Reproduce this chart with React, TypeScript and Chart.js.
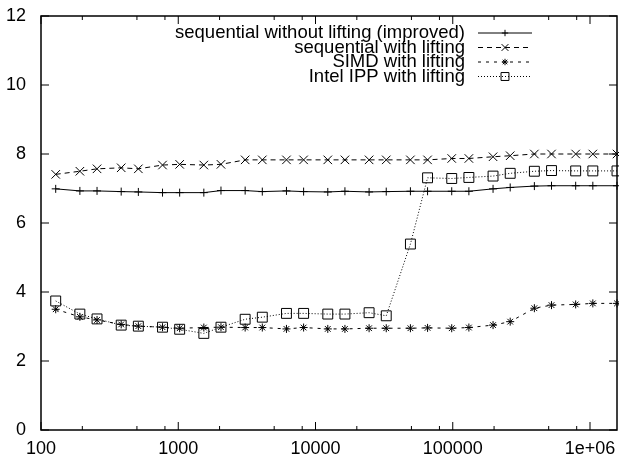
import React, { useEffect, useRef } from "react";
import { Chart, registerables } from "chart.js";

Chart.register(...registerables);

// ---- data ----
const sizes = [
  128, 192, 256, 384, 512, 768, 1024, 1536, 2048, 3072, 4096, 6144, 8192, 12288,
  16384, 24576, 32768, 49152, 65536, 98304, 131072, 196608, 262144, 393216, 524288,
  786432, 1048576, 1572864,
];

const seqWithoutLifting = [
  6.99, 6.93, 6.93, 6.91, 6.9, 6.88, 6.88, 6.88, 6.94, 6.94, 6.91, 6.93, 6.91, 6.9,
  6.92, 6.9, 6.91, 6.92, 6.92, 6.92, 6.92, 6.99, 7.03, 7.07, 7.08, 7.08, 7.08, 7.08,
];

const seqWithLifting = [
  7.41, 7.5, 7.57, 7.6, 7.57, 7.68, 7.7, 7.68, 7.7, 7.83, 7.83, 7.83, 7.83, 7.83,
  7.83, 7.83, 7.83, 7.83, 7.83, 7.87, 7.87, 7.92, 7.95, 8.0, 8.0, 8.0, 8.0, 8.0,
];

const simdWithLifting = [
  3.5, 3.28, 3.19, 3.06, 3.01, 2.98, 2.95, 2.97, 2.98, 2.97, 2.97, 2.93, 2.97, 2.93,
  2.93, 2.95, 2.95, 2.95, 2.96, 2.95, 2.97, 3.04, 3.14, 3.53, 3.62, 3.64, 3.67, 3.67,
];

const ippWithLifting = [
  3.74, 3.36, 3.22, 3.04, 3.01, 2.98, 2.92, 2.8, 2.98, 3.21, 3.27, 3.38, 3.38, 3.36,
  3.36, 3.4, 3.31, 5.39, 7.31, 7.29, 7.32, 7.36, 7.44, 7.5, 7.52, 7.51, 7.51, 7.51,
];

const seriesLabels = [
  "sequential without lifting (improved)",
  "sequential with lifting",
  "SIMD with lifting",
  "Intel IPP with lifting",
];

const xTickValues = [100, 1000, 10000, 100000, 1000000];
const xTickLabels = ["100", "1000", "10000", "100000", "1e+06"];
const xMinorFactors = [2, 5, 8];
const yTickValues = [0, 2, 4, 6, 8, 10, 12];

const X_MIN = 100;
const X_MAX = 1572864;
const Y_MIN = 0;
const Y_MAX = 12;

const FONT = '"Liberation Sans", Arial, Helvetica, sans-serif';
const FONT_SIZE = 18;
const LEGEND_FONT_SIZE = 18.5;

function drawMarker(ctx: CanvasRenderingContext2D, style: string, r: number, x: number, y: number) {
  ctx.beginPath();
  if (style === "cross" || style === "star") {
    ctx.moveTo(x - r, y);
    ctx.lineTo(x + r, y);
    ctx.moveTo(x, y - r);
    ctx.lineTo(x, y + r);
  }
  if (style === "crossRot" || style === "star") {
    const o = Math.SQRT1_2 * r;
    ctx.moveTo(x - o, y - o);
    ctx.lineTo(x + o, y + o);
    ctx.moveTo(x - o, y + o);
    ctx.lineTo(x + o, y - o);
  }
  if (style === "rect") {
    const s = Math.SQRT1_2 * r;
    ctx.rect(x - s, y - s, 2 * s, 2 * s);
  }
  ctx.stroke();
}

const framePlugin = {
  id: "gpFrame",
  afterDraw(chart: any) {
    const ctx: CanvasRenderingContext2D = chart.ctx;
    const a = chart.chartArea;
    const xs = chart.scales.x;
    const ys = chart.scales.y;
    ctx.save();
    ctx.strokeStyle = "#000";
    ctx.lineWidth = 1.5;
    ctx.setLineDash([]);
    ctx.strokeRect(a.left, a.top, a.right - a.left, a.bottom - a.top);
    ctx.lineWidth = 1;
    ctx.beginPath();
    const major = 8;
    const minor = 4;
    for (const v of xTickValues) {
      const px = xs.getPixelForValue(v);
      ctx.moveTo(px, a.bottom);
      ctx.lineTo(px, a.bottom - major);
      ctx.moveTo(px, a.top);
      ctx.lineTo(px, a.top + major);
      for (const f of xMinorFactors) {
        const mv = v * f;
        if (mv > X_MAX) continue;
        const mpx = xs.getPixelForValue(mv);
        ctx.moveTo(mpx, a.bottom);
        ctx.lineTo(mpx, a.bottom - minor);
        ctx.moveTo(mpx, a.top);
        ctx.lineTo(mpx, a.top + minor);
      }
    }
    for (const v of yTickValues) {
      const py = ys.getPixelForValue(v);
      ctx.moveTo(a.left, py);
      ctx.lineTo(a.left + major, py);
      ctx.moveTo(a.right, py);
      ctx.lineTo(a.right - major, py);
    }
    ctx.stroke();

    // legend (gnuplot style: text right-aligned, sample to the right)
    const textRight = a.right - 152;
    const x0 = a.right - 139;
    const x1 = a.right - 85;
    const top = a.top + 17;
    const step = 14.5;
    chart.data.datasets.forEach((ds: any, i: number) => {
      const y = top + i * step;
      ctx.font = `${LEGEND_FONT_SIZE}px ${FONT}`;
      ctx.fillStyle = "#000";
      ctx.textAlign = "right";
      ctx.textBaseline = "middle";
      ctx.fillText(ds.label, textRight, y);
      ctx.strokeStyle = "#000";
      ctx.lineWidth = 1;
      ctx.setLineDash(ds.borderDash || []);
      ctx.beginPath();
      ctx.moveTo(x0, y);
      ctx.lineTo(x1, y);
      ctx.stroke();
      ctx.setLineDash([]);
      drawMarker(ctx, ds.pointStyle, ds.pointRadius * 0.8, (x0 + x1) / 2, y);
    });
    ctx.restore();
  },
};

export default function App() {
  const ref = useRef<HTMLCanvasElement | null>(null);

  useEffect(() => {
    if (!ref.current) return;
    const mk = (label: string, values: number[], dash: number[], style: string, radius: number) => ({
      label,
      data: sizes.map((x, i) => ({ x, y: values[i] })),
      borderColor: "#000",
      backgroundColor: "rgba(0,0,0,0)",
      borderWidth: 1,
      borderDash: dash,
      pointStyle: style,
      pointRadius: radius,
      pointBorderColor: "#000",
      pointBackgroundColor: "rgba(0,0,0,0)",
      pointBorderWidth: 1,
      fill: false,
      tension: 0,
      clip: 10,
    });
    const chart = new Chart(ref.current, {
      type: "line",
      data: {
        datasets: [
          mk(seriesLabels[0], seqWithoutLifting, [], "cross", 4),
          mk(seriesLabels[1], seqWithLifting, [5, 4], "crossRot", 6),
          mk(seriesLabels[2], simdWithLifting, [3, 5], "star", 4),
          mk(seriesLabels[3], ippWithLifting, [1, 2], "rect", 7),
        ] as any,
      },
      options: {
        animation: false,
        responsive: false,
        maintainAspectRatio: false,
        layout: { autoPadding: false, padding: { top: 16, right: 2, left: 0, bottom: 0 } },
        plugins: { legend: { display: false }, tooltip: { enabled: false } },
        scales: {
          x: {
            type: "logarithmic",
            min: X_MIN,
            max: X_MAX,
            grid: { display: false, drawTicks: false, tickLength: 0 },
            border: { display: false },
            ticks: {
              color: "#000",
              font: { family: FONT, size: FONT_SIZE },
              padding: 8,
              autoSkip: false,
              maxRotation: 0,
              callback: (v: any) => {
                const idx = xTickValues.indexOf(Number(v));
                return idx >= 0 ? xTickLabels[idx] : "";
              },
            },
            afterBuildTicks: (s: any) => {
              s.ticks = xTickValues.map((v) => ({ value: v }));
            },
            afterFit: (s: any) => {
              s.height = 26;
              s.paddingLeft = 0;
              s.paddingRight = 0;
              s.paddingTop = 0;
              s.paddingBottom = 0;
            },
          },
          y: {
            type: "linear",
            min: Y_MIN,
            max: Y_MAX,
            grid: { display: false, drawTicks: false, tickLength: 0 },
            border: { display: false },
            ticks: {
              color: "#000",
              font: { family: FONT, size: FONT_SIZE },
              stepSize: 2,
              padding: 15,
            },
            afterBuildTicks: (s: any) => {
              s.ticks = yTickValues.map((v) => ({ value: v }));
            },
            afterFit: (s: any) => {
              s.width = 41;
              s.paddingLeft = 0;
              s.paddingRight = 0;
              s.paddingTop = 0;
              s.paddingBottom = 0;
            },
          },
        },
      } as any,
      plugins: [framePlugin],
    });
    return () => chart.destroy();
  }, []);

  return (
    <div style={{ position: "absolute", left: 0, top: 0, width: 619, height: 456, background: "#fff" }}>
      <canvas ref={ref} width={619} height={456} style={{ width: 619, height: 456, display: "block" }} />
    </div>
  );
}
